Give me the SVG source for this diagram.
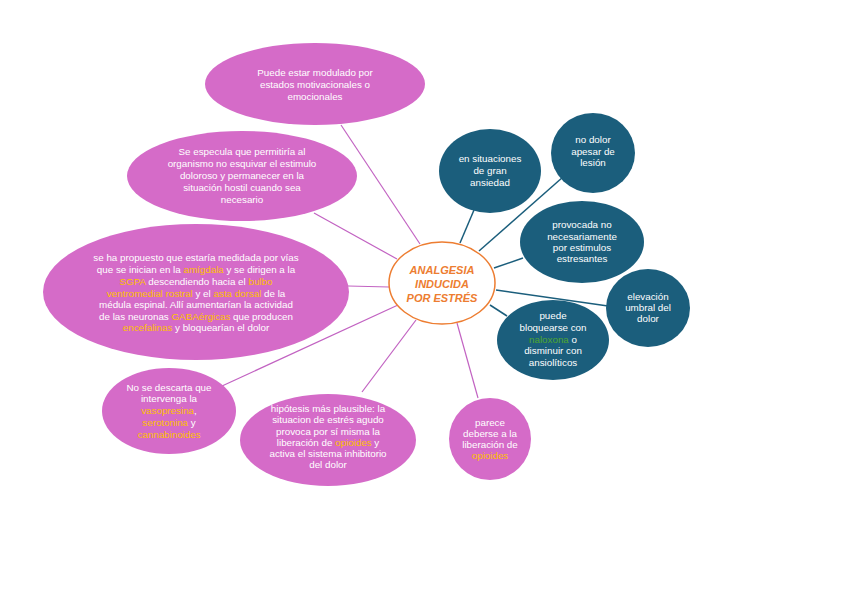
<svg xmlns="http://www.w3.org/2000/svg" width="848" height="599" viewBox="0 0 848 599">
<style>
.pk{fill:#D56BC8;}
.tl{fill:#1B5E7C;}
.lp{stroke:#C263C2;stroke-width:1.2;fill:none;}
.lt{stroke:#1B5E7C;stroke-width:1.5;fill:none;}
text{font-family:"Liberation Sans",Arial,sans-serif;font-size:9.8px;fill:#FFFFFF;text-anchor:middle;}
.y{fill:#FFC000;}
.g{fill:#4EA72E;}
.ct{font-size:11px;font-weight:bold;font-style:italic;fill:#ED7D31;}
</style>
<rect width="848" height="599" fill="#FFFFFF"/>
<g id="connectors">
<line class="lp" x1="420" y1="244" x2="341" y2="125"/>
<line class="lp" x1="397" y1="259" x2="314" y2="213"/>
<line class="lp" x1="389" y1="287" x2="348" y2="286"/>
<line class="lp" x1="398" y1="305" x2="222" y2="386"/>
<line class="lp" x1="416" y1="320" x2="362" y2="392"/>
<line class="lp" x1="457" y1="323" x2="478" y2="398"/>
<line class="lt" x1="460" y1="243" x2="474" y2="210"/>
<line class="lt" x1="479" y1="251" x2="563" y2="177"/>
<line class="lt" x1="494" y1="268" x2="523" y2="258"/>
<line class="lt" x1="496" y1="290" x2="608" y2="306"/>
<line class="lt" x1="490" y1="305" x2="507" y2="316"/>
</g>
<g id="center">
<ellipse cx="442" cy="283" rx="53" ry="41" fill="#FFFFFF" stroke="#ED7D31" stroke-width="1.5"/>
<text class="ct" x="442" y="274">ANALGESIA</text>
<text class="ct" x="442" y="288">INDUCIDA</text>
<text class="ct" x="442" y="302">POR ESTRÉS</text>
</g>
<g id="p1">
<ellipse class="pk" cx="315" cy="84" rx="110" ry="41"/>
<text x="315" y="76">Puede estar modulado por</text>
<text x="315" y="88">estados motivacionales o</text>
<text x="315" y="100">emocionales</text>
</g>
<g id="p2">
<ellipse class="pk" cx="242" cy="176" rx="115" ry="45"/>
<text x="242" y="155">Se especula que permitiría al</text>
<text x="242" y="167">organismo no esquivar el estimulo</text>
<text x="242" y="179">doloroso y permanecer en la</text>
<text x="242" y="191">situación hostil cuando sea</text>
<text x="242" y="203">necesario</text>
</g>
<g id="p3">
<ellipse class="pk" cx="196" cy="292" rx="153" ry="68"/>
<text x="196" y="261">se ha propuesto que estaría medidada por vías</text>
<text x="196" y="273">que se inician en la <tspan class="y">amígdala</tspan> y se dirigen a la</text>
<text x="196" y="285"><tspan class="y">SGPA</tspan> descendiendo hacia el <tspan class="y">bulbo</tspan></text>
<text x="196" y="297"><tspan class="y">ventromedial rostral</tspan> y el <tspan class="y">asta dorsal</tspan> de la</text>
<text x="196" y="308">médula espinal. Allí aumentarían la actividad</text>
<text x="196" y="320">de las neuronas <tspan class="y">GABAérgicas</tspan> que producen</text>
<text x="196" y="331"><tspan class="y">encefalinas</tspan> y bloquearían el dolor</text>
</g>
<g id="p4">
<ellipse class="pk" cx="169" cy="411" rx="67" ry="43"/>
<text x="169" y="391">No se descarta que</text>
<text x="169" y="402">intervenga la</text>
<text x="169" y="414"><tspan class="y">vasopresina</tspan>,</text>
<text x="169" y="426"><tspan class="y">serotonina</tspan> y</text>
<text x="169" y="438"><tspan class="y">cannabinoides</tspan></text>
</g>
<g id="p5">
<ellipse class="pk" cx="328" cy="440" rx="88" ry="46"/>
<text x="328" y="412">hipótesis más plausible: la</text>
<text x="328" y="423">situacion de estrés agudo</text>
<text x="328" y="435">provoca por sí misma la</text>
<text x="328" y="446">liberación de <tspan class="y">opioides</tspan> y</text>
<text x="328" y="457">activa el sistema inhibitorio</text>
<text x="328" y="468">del dolor</text>
</g>
<g id="p6">
<circle class="pk" cx="490" cy="439" r="41"/>
<text x="490" y="426">parece</text>
<text x="490" y="437">deberse a la</text>
<text x="490" y="448">liberación de</text>
<text x="490" y="459"><tspan class="y">opioides</tspan></text>
</g>
<g id="t1">
<ellipse class="tl" cx="490" cy="171" rx="51" ry="42"/>
<text x="490" y="162">en situaciones</text>
<text x="490" y="174">de gran</text>
<text x="490" y="186">ansiedad</text>
</g>
<g id="t2">
<ellipse class="tl" cx="593" cy="153" rx="42" ry="40"/>
<text x="593" y="143">no dolor</text>
<text x="593" y="155">apesar de</text>
<text x="593" y="166">lesión</text>
</g>
<g id="t3">
<ellipse class="tl" cx="582" cy="242" rx="62" ry="41"/>
<text x="582" y="228">provocada no</text>
<text x="582" y="240">necesariamente</text>
<text x="582" y="251">por estimulos</text>
<text x="582" y="262">estresantes</text>
</g>
<g id="t4">
<ellipse class="tl" cx="648" cy="308" rx="42" ry="39"/>
<text x="648" y="300">elevación</text>
<text x="648" y="311">umbral del</text>
<text x="648" y="322">dolor</text>
</g>
<g id="t5">
<ellipse class="tl" cx="553" cy="340" rx="56" ry="40"/>
<text x="553" y="319">puede</text>
<text x="553" y="331">bloquearse con</text>
<text x="553" y="343"><tspan class="g">naloxona</tspan> o</text>
<text x="553" y="354">disminuir con</text>
<text x="553" y="366">ansiolíticos</text>
</g>
</svg>
